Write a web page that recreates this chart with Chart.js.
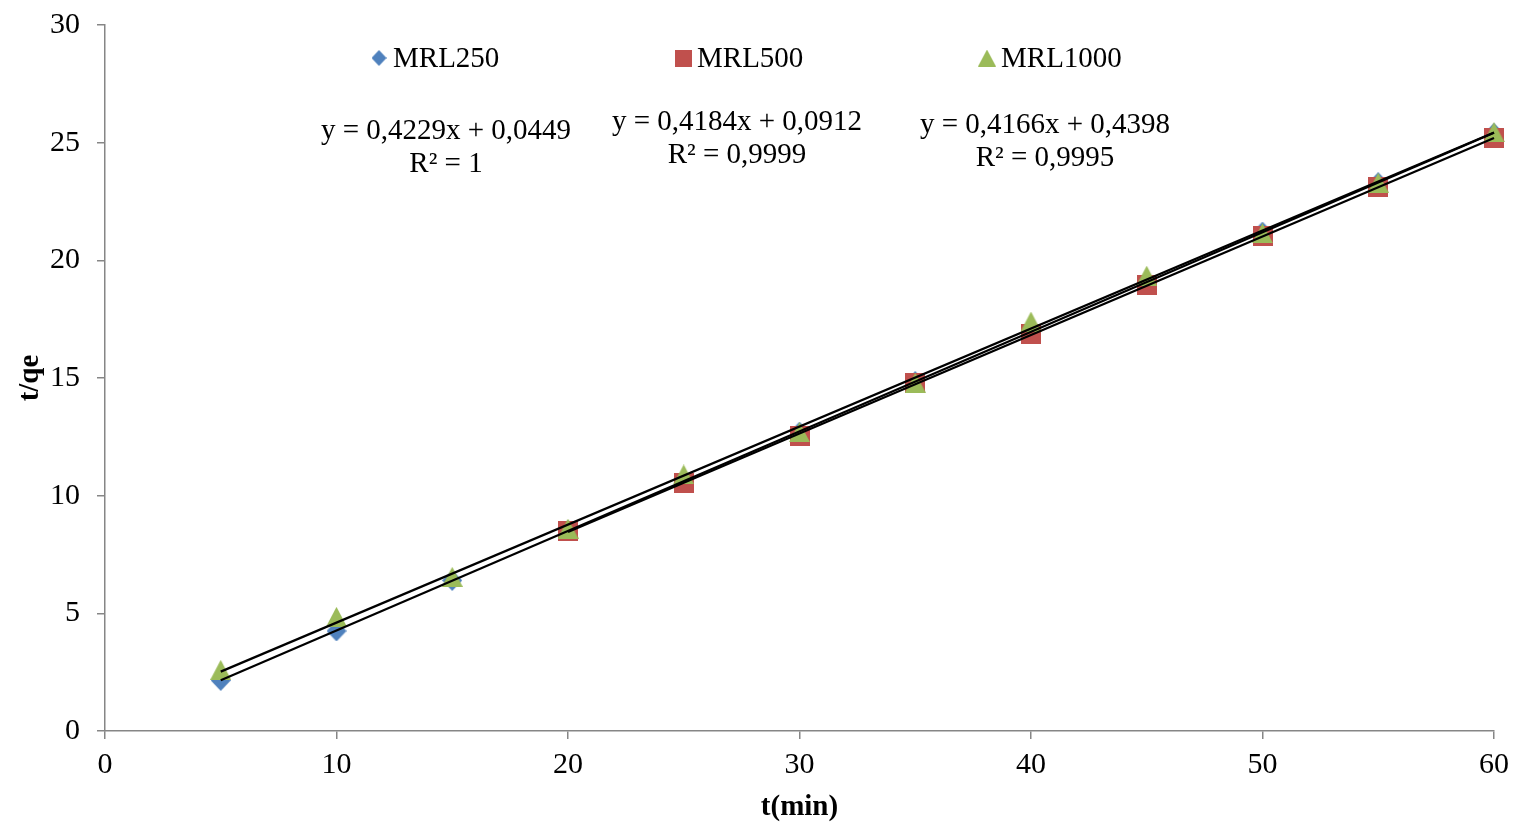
<!DOCTYPE html>
<html>
<head>
<meta charset="utf-8">
<title>t/qe vs t(min)</title>
<script src="https://cdn.jsdelivr.net/npm/chart.js@4.4.1/dist/chart.umd.min.js"></script>
<style>
    html, body { margin: 0; padding: 0; background: #ffffff; }
    #wrap { position: relative; width: 1514px; height: 822px; overflow: hidden; }
    #kineticChart { position: absolute; left: 0; top: -10px; }
</style>
</head>
<body>
<div id="wrap"><canvas id="kineticChart" width="1517" height="832"></canvas></div>
<script>
// Data
const seriesNames = ['MRL250', 'MRL500', 'MRL1000'];
const timeMin = [5, 10, 15, 20, 25, 30, 35, 40, 45, 50, 55, 60];
const mrl250 = [2.15, 4.25, 6.4, 8.5, 10.6, 12.7, 14.85, 16.95, 19.05, 21.2, 23.3, 25.4];
const mrl500Time = [20, 25, 30, 35, 40, 45, 50, 55, 60];
const mrl500 = [8.5, 10.55, 12.55, 14.8, 16.85, 18.95, 21.05, 23.1, 25.2];
const mrl1000 = [2.6, 4.85, 6.55, 8.6, 10.9, 12.7, 14.8, 17.4, 19.35, 21.15, 23.3, 25.45];

// Linear trendlines shown on the chart
const slopes = [0.4229, 0.4184, 0.4166];
const intercepts = [0.0449, 0.0912, 0.4398];
const equationLabels = ['y = 0,4229x + 0,0449', 'y = 0,4184x + 0,0912', 'y = 0,4166x + 0,4398'];
const r2Labels = ['R² = 1', 'R² = 0,9999', 'R² = 0,9995'];

const xTicks = [0, 10, 20, 30, 40, 50, 60];
const yTicks = [0, 5, 10, 15, 20, 25, 30];

const colors = ['#4f81bd', '#c0504d', '#9bbb59'];
const FONT = "'Liberation Serif', 'Times New Roman', serif";
const AXIS_GREY = '#868686';
// canvas sits 10px above the page top
const SHIFT_Y = 10;

function makeMarker(shape, color, w, h) {
    const c = document.createElement('canvas');
    c.width = w;
    c.height = h;
    const ctx = c.getContext('2d');
    ctx.fillStyle = color;
    ctx.beginPath();
    if (shape === 'diamond') {
        ctx.moveTo(w / 2, 0);
        ctx.lineTo(w, h / 2);
        ctx.lineTo(w / 2, h);
        ctx.lineTo(0, h / 2);
    } else if (shape === 'triangle') {
        ctx.moveTo(w / 2, 0);
        ctx.lineTo(w, h);
        ctx.lineTo(0, h);
    } else {
        ctx.rect(0, 0, w, h);
    }
    ctx.closePath();
    ctx.fill();
    return c;
}

const markers = [
    makeMarker('diamond', colors[0], 20, 21),
    makeMarker('square', colors[1], 20, 20),
    makeMarker('triangle', colors[2], 21, 20)
];
const legendMarkers = [
    makeMarker('diamond', colors[0], 15, 16),
    makeMarker('square', colors[1], 17, 17),
    makeMarker('triangle', colors[2], 18, 17)
];

function toPoints(xs, ys) {
    return xs.map((x, i) => ({ x: x, y: ys[i] }));
}

function trendPoints(i, xs) {
    const x0 = xs[0];
    const x1 = xs[xs.length - 1];
    return [
        { x: x0, y: slopes[i] * x0 + intercepts[i] },
        { x: x1, y: slopes[i] * x1 + intercepts[i] }
    ];
}

const seriesX = [timeMin, mrl500Time, timeMin];
const seriesY = [mrl250, mrl500, mrl1000];

const datasets = [];
seriesNames.forEach((name, i) => {
    datasets.push({
        label: name,
        data: toPoints(seriesX[i], seriesY[i]),
        pointStyle: markers[i],
        pointRadius: 10,
        pointHoverRadius: 10,
        backgroundColor: colors[i],
        borderColor: colors[i],
        showLine: false,
        clip: false,
        order: 3 - i
    });
});
seriesNames.forEach((name, i) => {
    datasets.push({
        label: 'Linear (' + name + ')',
        data: trendPoints(i, seriesX[i]),
        showLine: true,
        borderColor: '#000000',
        borderWidth: 2.2,
        pointRadius: 0,
        pointHoverRadius: 0,
        fill: false,
        clip: false,
        order: 0
    });
});

// Legend and trendline equations drawn inside the plot area
const annotationPlugin = {
    id: 'annotations',
    afterDatasetsDraw(chart) {
        const ctx = chart.ctx;
        ctx.save();
        ctx.translate(0, SHIFT_Y);
        ctx.fillStyle = '#000000';
        ctx.font = '29px ' + FONT;
        ctx.textBaseline = 'middle';

        const legendX = [371, 675, 979];
        const legendY = 58;
        seriesNames.forEach((name, i) => {
            const m = legendMarkers[i];
            ctx.drawImage(m, legendX[i] + 8 - m.width / 2, legendY - m.height / 2);
            ctx.textAlign = 'left';
            ctx.fillText(name, legendX[i] + 22, legendY + 1);
        });

        const eqX = [446, 737, 1045];
        const eqY = [131, 122, 125];
        ctx.textAlign = 'center';
        equationLabels.forEach((txt, i) => {
            ctx.fillText(txt, eqX[i], eqY[i]);
            ctx.fillText(r2Labels[i], eqX[i], eqY[i] + 33);
        });
        ctx.restore();
    }
};

const ctx = document.getElementById('kineticChart').getContext('2d');
const chart = new Chart(ctx, {
    type: 'scatter',
    data: { datasets: datasets },
    options: {
        responsive: false,
        animation: false,
        layout: { padding: { top: 15, right: 17, left: 0, bottom: 0 } },
        plugins: {
            legend: { display: false },
            tooltip: { enabled: false }
        },
        scales: {
            x: {
                type: 'linear',
                min: 0,
                max: 60,
                afterBuildTicks: (scale) => { scale.ticks = xTicks.map(v => ({ value: v })); },
                afterFit: (scale) => { scale.height = 91; },
                ticks: {
                    color: '#000000',
                    font: { family: FONT, size: 30 },
                    padding: 8,
                    maxRotation: 0
                },
                grid: {
                    display: true,
                    drawOnChartArea: false,
                    drawTicks: true,
                    tickLength: 8,
                    color: AXIS_GREY,
                    lineWidth: 1.5
                },
                border: { color: AXIS_GREY, width: 1.5 },
                title: {
                    display: true,
                    text: 't(min)',
                    color: '#000000',
                    font: { family: FONT, size: 29, weight: 'bold' },
                    padding: { top: 0, bottom: -3 }
                }
            },
            y: {
                type: 'linear',
                min: 0,
                max: 30,
                afterBuildTicks: (scale) => { scale.ticks = yTicks.map(v => ({ value: v })); },
                afterFit: (scale) => { scale.width = 105; },
                ticks: {
                    color: '#000000',
                    font: { family: FONT, size: 30 },
                    padding: 17
                },
                grid: {
                    display: true,
                    drawOnChartArea: false,
                    drawTicks: true,
                    tickLength: 8,
                    color: AXIS_GREY,
                    lineWidth: 1.5
                },
                border: { color: AXIS_GREY, width: 1.5 },
                title: {
                    display: true,
                    text: 't/qe',
                    color: '#000000',
                    font: { family: FONT, size: 29, weight: 'bold' },
                    padding: { top: 13, bottom: 0 }
                }
            }
        }
    },
    plugins: [annotationPlugin]
});
</script>
</body>
</html>
